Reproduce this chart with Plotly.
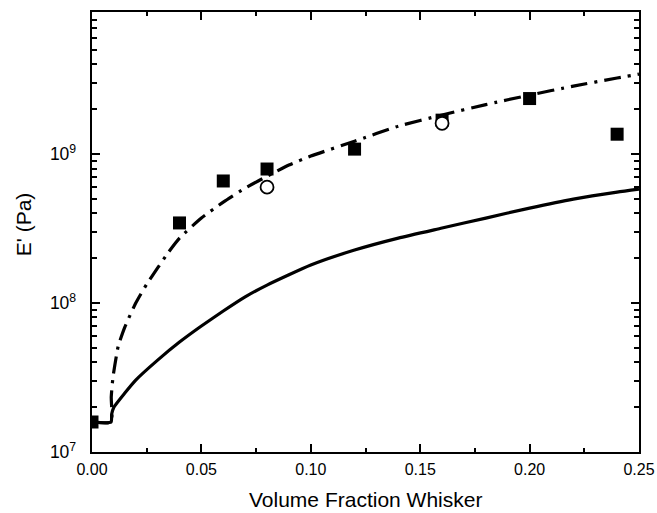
import plotly.graph_objects as go

# Experimental data (filled squares)
sq_x = [0.0, 0.04, 0.06, 0.08, 0.12, 0.16, 0.20, 0.24]
sq_y = [1.59e7, 3.45e8, 6.6e8, 7.94e8, 1.08e9, 1.69e9, 2.36e9, 1.36e9]

# Experimental data (open circles)
ci_x = [0.08, 0.16]
ci_y = [6.0e8, 1.61e9]

# Model curve 1 (solid)
solid_x = [0.0, 0.0087, 0.009, 0.01, 0.015, 0.02, 0.03, 0.04, 0.05, 0.06, 0.07, 0.08,
           0.10, 0.12, 0.14, 0.16, 0.18, 0.20, 0.22, 0.24, 0.25]
solid_y = [1.59e7, 1.59e7, 1.8e7, 2.0e7, 2.49e7, 3.04e7, 4.14e7, 5.47e7, 7.01e7, 8.84e7,
           1.10e8, 1.32e8, 1.80e8, 2.27e8, 2.73e8, 3.19e8, 3.72e8, 4.34e8, 4.99e8,
           5.56e8, 5.82e8]

# Model curve 2 (dash-dot)
dd_x = [0.0, 0.0087, 0.0088, 0.0096, 0.012, 0.015, 0.02, 0.025, 0.03, 0.035, 0.04,
        0.05, 0.06, 0.07, 0.08, 0.09, 0.10, 0.12, 0.14, 0.16, 0.18, 0.20, 0.22, 0.24, 0.25]
dd_y = [1.59e7, 1.59e7, 2.34e7, 3.18e7, 5.15e7, 6.9e7, 1.0e8, 1.34e8, 1.72e8, 2.2e8,
        2.73e8, 3.72e8, 4.76e8, 5.91e8, 7.1e8, 8.44e8, 9.7e8, 1.22e9, 1.54e9, 1.83e9,
        2.15e9, 2.49e9, 2.86e9, 3.24e9, 3.44e9]

x_ticks = [0.0, 0.05, 0.10, 0.15, 0.20, 0.25]
x_tick_labels = ["0.00", "0.05", "0.10", "0.15", "0.20", "0.25"]

FONT = "Liberation Sans, Arial, sans-serif"

fig = go.Figure()
fig.add_trace(go.Scatter(x=solid_x, y=solid_y, mode="lines",
                         line=dict(color="black", width=3.2, shape="spline", smoothing=0.5),
                         showlegend=False))
fig.add_trace(go.Scatter(x=dd_x, y=dd_y, mode="lines",
                         line=dict(color="black", width=3.2, dash="17px,7px,3px,7px",
                                   shape="spline", smoothing=0.5),
                         showlegend=False))
fig.add_trace(go.Scatter(x=sq_x, y=sq_y, mode="markers",
                         marker=dict(symbol="square", size=13, color="black"),
                         showlegend=False))
fig.add_trace(go.Scatter(x=ci_x, y=ci_y, mode="markers",
                         marker=dict(symbol="circle", size=13, color="white",
                                     line=dict(color="black", width=1.8)),
                         showlegend=False))

fig.update_layout(
    width=657, height=513,
    margin=dict(l=92, r=18, t=12, b=61, autoexpand=False),
    paper_bgcolor="white", plot_bgcolor="white",
    font=dict(family=FONT, color="black", size=16),
    annotations=[
        dict(text="E' (Pa)", textangle=-90, xref="paper", yref="paper",
             x=-0.126, y=0.518, xanchor="center", yanchor="middle",
             showarrow=False, font=dict(size=21)),
        dict(text="Volume Fraction Whisker", xref="paper", yref="paper",
             x=0.5, y=-0.108, xanchor="center", yanchor="middle",
             showarrow=False, font=dict(size=21)),
    ],
)
fig.update_xaxes(
    range=[0, 0.25], tickvals=x_ticks, ticktext=x_tick_labels,
    showline=True, linecolor="black", linewidth=2, mirror="ticks",
    ticks="inside", ticklen=8, tickwidth=2, tickcolor="black",
    minor=dict(ticks="inside", ticklen=4, tickwidth=2, tickcolor="black", dtick=0.025),
    showgrid=False, zeroline=False, automargin=False,
    tickfont=dict(size=16), ticklabelstandoff=2,
)
fig.update_yaxes(
    type="log", range=[7, 9.954], dtick=1, exponentformat="power",
    showline=True, linecolor="black", linewidth=2, mirror="ticks",
    ticks="inside", ticklen=8, tickwidth=2, tickcolor="black",
    minor=dict(ticks="inside", ticklen=5, tickwidth=2, tickcolor="black", dtick="D1"),
    showgrid=False, zeroline=False, automargin=False,
    tickfont=dict(size=14), ticklabelstandoff=11,
)

fig.write_html("out.html", config={"displayModeBar": False},
               post_script="document.body.style.margin='0';document.body.style.overflow='hidden';")
